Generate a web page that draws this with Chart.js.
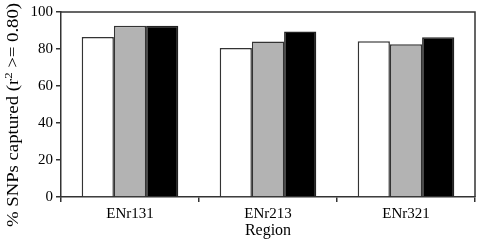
<!DOCTYPE html>
<html>
<head>
<meta charset="utf-8">
<script src="https://cdn.jsdelivr.net/npm/chart.js@4"></script>
<style>
  html, body { margin: 0; padding: 0; background: #fff; }
  #wrap { width: 480px; height: 240px; }
</style>
</head>
<body>
<div id="wrap"><canvas id="chart1"></canvas></div>
<script>
const regions = ['ENr131', 'ENr213', 'ENr321']
const whiteVals = [86.5, 80.5, 84.2]
const grayVals = [92.6, 84.0, 82.6]
const blackVals = [92.6, 89.5, 86.3]
const yTicks = [0, 20, 40, 60, 80, 100]
const yTitle = ['% SNPs captured (r', '2', ' >= 0.80)']

const serif = '"Liberation Serif", "Times New Roman", serif'
Chart.defaults.font.family = serif
Chart.defaults.font.size = 15
Chart.defaults.color = '#000'

// top and right edges of the plot frame, plus the y title with its superscript
const frame = {
    id: 'frame',
    afterDraw(chart) {
        const { ctx, chartArea: a } = chart
        ctx.save()
        ctx.strokeStyle = '#333'
        ctx.lineWidth = 1.5
        ctx.beginPath()
        ctx.moveTo(a.left, a.top)
        ctx.lineTo(a.right, a.top)
        ctx.lineTo(a.right, a.bottom)
        ctx.stroke()

        const big = '16px ' + serif
        const small = '11px ' + serif
        ctx.font = big
        const w0 = ctx.measureText(yTitle[0]).width
        const w2 = ctx.measureText(yTitle[2]).width
        ctx.font = small
        const w1 = ctx.measureText(yTitle[1]).width
        const total = w0 + w1 + w2
        ctx.translate(18, 115)
        ctx.rotate(-Math.PI / 2)
        ctx.scale(1.17, 1)
        ctx.fillStyle = '#000'
        ctx.textBaseline = 'alphabetic'
        let x = -total / 2
        ctx.font = big
        ctx.fillText(yTitle[0], x, 0)
        x += w0
        ctx.font = small
        ctx.fillText(yTitle[1], x, -6)
        x += w1
        ctx.font = big
        ctx.fillText(yTitle[2], x, 0)
        ctx.restore()
    }
}

const data = {
    labels: regions,
    datasets: [
        { data: whiteVals, backgroundColor: '#fff', borderColor: '#333', borderWidth: 1.5 },
        { data: grayVals, backgroundColor: '#b3b3b3', borderColor: '#333', borderWidth: 1.5 },
        { data: blackVals, backgroundColor: '#000', borderColor: '#222', borderWidth: 1.5 }
    ]
}

const options = {
    responsive: true,
    maintainAspectRatio: false,
    animation: false,
    layout: { padding: { top: 6, right: 5, left: 0, bottom: 0 } },
    datasets: { bar: { categoryPercentage: 0.7, barPercentage: 1 } },
    plugins: { legend: { display: false }, tooltip: { enabled: false } },
    scales: {
        x: {
            grid: { offset: true, drawOnChartArea: false, drawTicks: true, tickLength: 5, color: '#333', lineWidth: 1.5 },
            border: { color: '#333', width: 1.5 },
            ticks: { padding: 3 },
            title: { display: true, text: 'Region', font: { size: 16 }, padding: { top: 3, bottom: 0 } },
            afterFit: s => { s.height = 43 }
        },
        y: {
            min: 0,
            max: 100,
            afterBuildTicks: s => { s.ticks = yTicks.map(v => ({ value: v })) },
            grid: { drawOnChartArea: false, drawTicks: true, tickLength: 5, color: '#333', lineWidth: 1.5 },
            border: { color: '#333', width: 1.5 },
            ticks: { padding: 3 },
            afterFit: s => { s.width = 61 }
        }
    }
}

new Chart('chart1', { type: 'bar', data, options, plugins: [frame] })
</script>
</body>
</html>
